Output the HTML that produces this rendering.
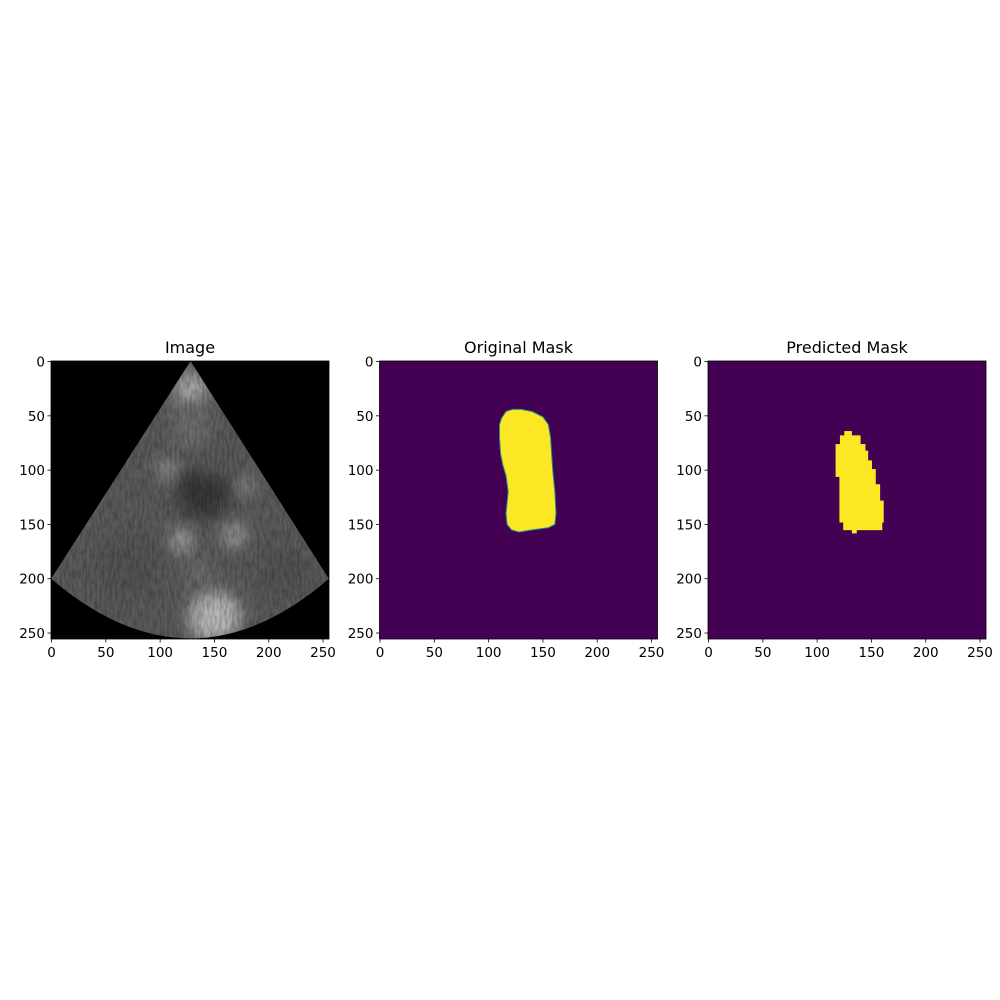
<!DOCTYPE html>
<html><head><meta charset="utf-8"><style>body{margin:0;background:#fff}svg{display:block}text{font-family:"DejaVu Sans","Liberation Sans",sans-serif;fill:#000}</style></head>
<body>
<svg id="fig" width="1000" height="1000" viewBox="0 0 1000 1000">
<defs>
<filter id="blur6" x="-100%" y="-100%" width="300%" height="300%"><feGaussianBlur stdDeviation="8"/></filter>
<filter id="noise"><feTurbulence type="fractalNoise" baseFrequency="0.4 0.1" numOctaves="2" seed="4"/><feColorMatrix type="matrix" values="0 0 0 0 0  0 0 0 0 0  0 0 0 0 0  0 0 0 -1.6 1.1"/></filter>
<clipPath id="sector"><path id="sectorPath"/></clipPath>
</defs>
<g id="panels"></g>
</svg>
<script>
const panelLefts=[51,379.5,708];
const panelTitles=["Image","Original Mask","Predicted Mask"];
const tickValues=[0,50,100,150,200,250];
const top0=361, size=278, N=256;
// original mask outline (data coords x,y)
const maskX=[112,116,122,130,140,150,155,157,158,159,161,162,161,155,140,128,121,117,116,118,116,113,111,110,110];
const maskY=[52,46,44,44,46,51,58,70,85,100,120,140,150,153,155,157,155,150,140,120,105,95,85,70,58];
// predicted mask rows: y0,y1,x0,x1
const predY0=[64,68,76,82,91,99,106,113,128,148,155];
const predY1=[68,76,82,91,99,106,113,128,148,155,158];
const predX0=[125,121,117,117,117,117,120.5,120.5,120.5,124,132];
const predX1=[132,140,144.5,147,150.5,154,154,158,161.3,160,136.5];
// ultrasound blobs: x,y,r,brightness
const blobX=[128,108,178,120,168,150,135,70,215,140,150,128];
const blobY=[25,100,115,165,160,235,195,190,195,120,80,60];
const blobR=[16,9,7,10,10,24,14,30,25,24,25,20];
const blobV=[170,160,170,180,175,185,110,85,85,55,90,110];
const NS="http://www.w3.org/2000/svg";
const root=document.getElementById('panels');
function mk(t,a,p){const e=document.createElementNS(NS,t);for(const k in a)e.setAttribute(k,a[k]);(p||root).appendChild(e);return e;}
panelLefts.forEach((L,i)=>{
  const sx=v=>L+(v+0.5)*size/N, sy=v=>top0+(v+0.5)*size/N;
  const g=mk('g',{});
  
  
  if(i===0){
    const bg=mk('rect',{x:L,y:top0,width:size,height:size,fill:'#000'},g);
    
    
    const d=`M${sx(128)},${sy(-0.5)} L${sx(-0.5)},${sy(200)} Q${sx(128)},${sy(310)} ${sx(255.5)},${sy(200)} Z`;
    document.getElementById('sectorPath').setAttribute('d',d);
    const sg=mk('g',{'clip-path':'url(#sector)'},g);
    
    
    mk('path',{d:d,fill:'#5c5c5c'},sg);
    blobX.forEach((bx,k)=>{const c=mk('circle',{cx:sx(bx),cy:sy(blobY[k]),r:blobR[k]*size/N,fill:`rgb(${blobV[k]},${blobV[k]},${blobV[k]})`,filter:'url(#blur6)'},sg);
      
      });
    mk('rect',{x:L,y:top0,width:size,height:size,filter:'url(#noise)',opacity:0.3},sg);
  } else {
    const bg=mk('rect',{x:L,y:top0,width:size,height:size,fill:'#440154'},g);
    
    
    if(i===1){
      const pts=maskX.map((x,k)=>sx(x)+','+sy(maskY[k])).join(' ');
      const p=mk('polygon',{points:pts,fill:'#fde725',stroke:'#21918c','stroke-width':1,'stroke-linejoin':'round'},g);
      
      
    } else {
      predY0.forEach((y0,k)=>{const r=mk('rect',{x:sx(predX0[k]),y:sy(predY0[k]),width:sx(predX1[k])-sx(predX0[k]),height:sy(predY1[k])-sy(y0)+0.3,fill:'#fde725'},g);
        
        });
    }
  }
  const fr=mk('rect',{x:L,y:top0,width:size,height:size,fill:'none',stroke:'#000','stroke-width':0.8},g);
  
  
  const t=mk('text',{x:L+size/2,y:353,'text-anchor':'middle','font-size':16},g);t.textContent=panelTitles[i];
  
  
  tickValues.forEach(v=>{
    mk('line',{x1:sx(v),x2:sx(v),y1:top0+size,y2:top0+size+3.5,stroke:'#000','stroke-width':0.8},g);
    const tx=mk('text',{x:sx(v),y:top0+size+18,'text-anchor':'middle','font-size':13.5},g);tx.textContent=v;
    
    
    mk('line',{x1:L-3.5,x2:L,y1:sy(v),y2:sy(v),stroke:'#000','stroke-width':0.8},g);
    const ty=mk('text',{x:L-6,y:sy(v)+5,'text-anchor':'end','font-size':13.5},g);ty.textContent=v;
    
    
  });
});
</script>
</body></html>
